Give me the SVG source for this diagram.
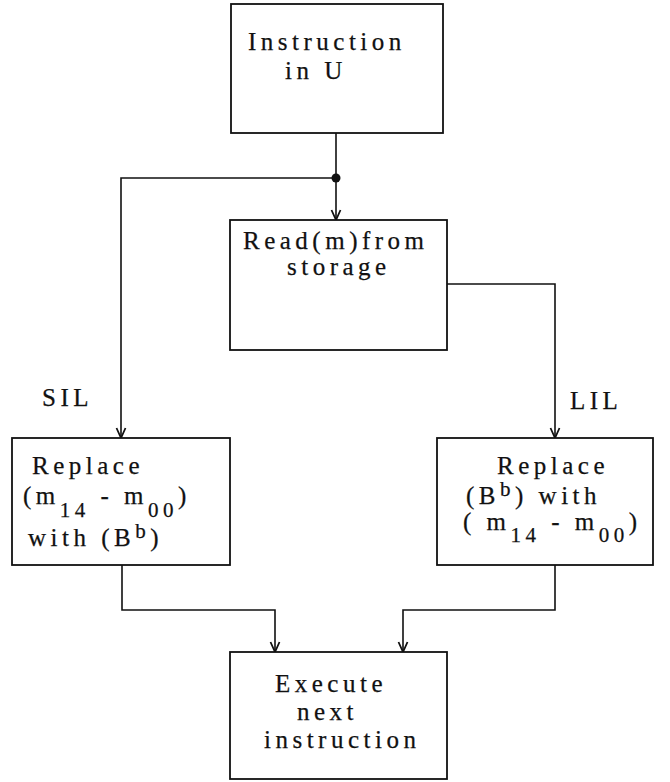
<svg xmlns="http://www.w3.org/2000/svg" width="670" height="782" viewBox="0 0 670 782">
<defs>
<style>
.box{fill:#fff;stroke:#111;stroke-width:1.8}
.ln{fill:none;stroke:#111;stroke-width:1.6}
text{font-family:"Liberation Serif","Times New Roman",serif;font-size:25px;letter-spacing:4.5px;fill:#111;stroke:#111;stroke-width:0.25}
.s{font-size:21px}
</style>
<marker id="arr" markerWidth="13" markerHeight="13" refX="11" refY="6" orient="auto" markerUnits="userSpaceOnUse" viewBox="0 0 13 13">
<path d="M1,1.5 L11,6 L1,10.5" fill="none" stroke="#111" stroke-width="1.8"/>
</marker>
</defs>
<rect width="670" height="782" fill="#fff"/>
<g id="connectors">
<path class="ln" d="M336,133 V178"/>
<path class="ln" d="M336,178 V220" marker-end="url(#arr)"/>
<path class="ln" d="M336,178 H121 V438" marker-end="url(#arr)"/>
<path class="ln" d="M447,284 H555 V438" marker-end="url(#arr)"/>
<path class="ln" d="M122,565 V610 H275 V652" marker-end="url(#arr)"/>
<path class="ln" d="M555,565 V610 H403 V652" marker-end="url(#arr)"/>
<circle cx="336" cy="178" r="4.5" fill="#111"/>
<text x="42" y="406">SIL</text>
<text x="570" y="409">LIL</text>
</g>
<g id="n1">
<rect class="box" x="231" y="4" width="212" height="129"/>
<text x="248" y="50">Instruction</text>
<text x="285" y="79">in U</text>
</g>
<g id="n2">
<rect class="box" x="230" y="220" width="217" height="130"/>
<text x="243" y="249">Read(m)from</text>
<text x="287" y="275">storage</text>
</g>
<g id="n3">
<rect class="box" x="12" y="438" width="218" height="127"/>
<text x="32" y="474">Replace</text>
<text x="23" y="504">(m<tspan class="s" dy="13">14</tspan><tspan dy="-13"> - m</tspan><tspan class="s" dy="13">00</tspan><tspan dy="-13">)</tspan></text>
<text x="28" y="546">with (B<tspan class="s" dy="-8">b</tspan><tspan dy="8">)</tspan></text>
</g>
<g id="n4">
<rect class="box" x="437" y="438" width="216" height="127"/>
<text x="497" y="474">Replace</text>
<text x="466" y="504">(B<tspan class="s" dy="-8">b</tspan><tspan dy="8">) with</tspan></text>
<text x="463" y="530">( m<tspan class="s" dy="12">14</tspan><tspan dy="-12"> - m</tspan><tspan class="s" dy="12">00</tspan><tspan dy="-12">)</tspan></text>
</g>
<g id="n5">
<rect class="box" x="230" y="652" width="217" height="127"/>
<text x="275" y="692">Execute</text>
<text x="297" y="720">next</text>
<text x="264" y="748">instruction</text>
</g>
</svg>
